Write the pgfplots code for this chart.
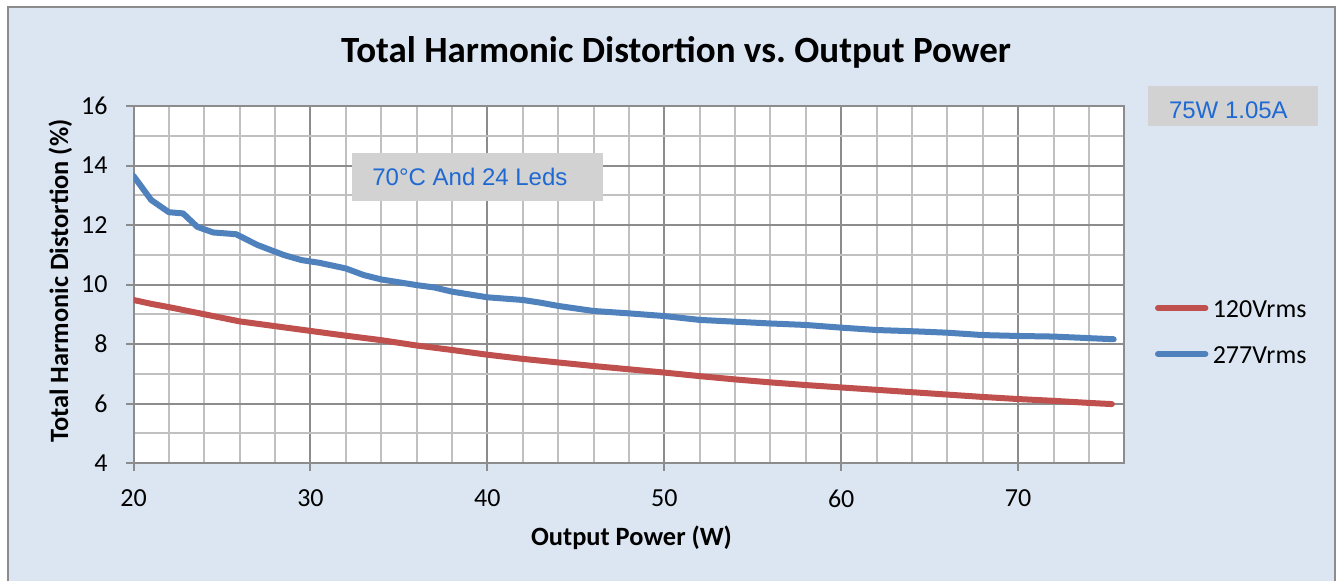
\documentclass[border=0pt]{standalone}
\usepackage{pgfplots}
\pgfplotsset{compat=1.18}
\usepackage{fontspec}
\setmainfont{Carlito}
\newfontfamily\arialfont{Liberation Sans}
\definecolor{chartbg}{RGB}{220,230,242}
\definecolor{framegray}{RGB}{140,140,140}
\definecolor{majgrid}{RGB}{140,140,140}
\definecolor{mingrid}{RGB}{192,192,192}
\definecolor{boxgray}{RGB}{210,210,210}
\definecolor{notecol}{RGB}{30,105,210}
\definecolor{redline}{RGB}{192,80,77}
\definecolor{blueline}{RGB}{79,129,189}

\begin{document}
\begin{tikzpicture}
\useasboundingbox (0,0) rectangle (669pt,290pt);
% chart area
\fill[chartbg] (4pt,-10pt) rectangle (667.5pt,286.5pt);
\draw[framegray, line width=1pt] (4pt,-10pt) -- (4pt,286.5pt) -- (667.5pt,286.5pt) -- (667.5pt,-10pt);

\begin{axis}[
  at={(66.75pt,58.5pt)}, anchor=south west,
  scale only axis, width=495.4pt, height=178.5pt,
  xmin=20, xmax=76, ymin=4, ymax=16,
  xtick={20,30,...,70}, ytick={4,6,...,16},
  minor xtick={22,24,...,76}, minor ytick={5,7,...,15},
  grid=both,
  major grid style={color=majgrid, line width=1pt},
  minor grid style={color=mingrid, line width=1pt},
  axis background/.style={fill=white},
  axis line style={color=majgrid, line width=1pt},
  tick align=outside, major tick length=3.75pt, minor tick length=0pt,
  tick style={color=majgrid, line width=1pt},
  xtick pos=bottom, ytick pos=left,
  ticklabel style={font=\fontsize{13}{15}\selectfont, inner sep=0pt},
  /pgf/number format/assume math mode=true,
  xticklabel style={anchor=north, yshift=-9.5pt},
  yticklabel style={anchor=east, xshift=-9pt},
  legend style={at={(1.0306,0.3697)}, anchor=west, draw=none, fill=none,
    inner sep=0pt, font=\fontsize{13}{15}\selectfont, row sep=14pt, column sep=2.2pt,
    nodes={inner sep=0pt, text height=9pt, text depth=0pt}},
  legend cell align=left,
  legend image code/.code={\draw[#1, line cap=round] (1.5pt,0pt) -- (25.2pt,0pt);},
]
\addplot[redline, line width=3pt, line join=round, line cap=round] coordinates {
(20,9.48) (21,9.35) (22,9.24) (23,9.12) (24,9.00) (25,8.88) (26,8.76) (28,8.60)
(30,8.44) (32,8.28) (34,8.13) (36,7.95) (38,7.80) (40,7.64) (42,7.50) (44,7.38)
(46,7.26) (48,7.15) (50,7.04) (52,6.92) (54,6.81) (56,6.71) (58,6.62) (60,6.54)
(62,6.46) (64,6.38) (66,6.30) (68,6.22) (70,6.15) (72,6.09) (74,6.02) (75.3,5.98)
};
\addlegendentry{120Vrms}
\addplot[blueline, line width=3pt, line join=round, line cap=round] coordinates {
(20,13.65) (21,12.84) (22,12.43) (22.8,12.39) (23.6,11.94) (24.5,11.75) (25.8,11.69)
(27,11.33) (28.5,10.99) (29.5,10.82) (30.5,10.73) (32,10.54) (33,10.32) (34,10.17)
(36,9.98) (37,9.90) (38,9.76) (40,9.57) (42,9.48) (43,9.39) (44,9.28) (46,9.11)
(48,9.03) (50,8.94) (52,8.81) (54,8.75) (56,8.69) (58,8.64) (60,8.55) (62,8.47)
(64,8.43) (66,8.38) (68,8.30) (70,8.27) (72,8.25) (75.4,8.16)
};
\addlegendentry{277Vrms}
\end{axis}

% title and axis labels
\node[anchor=base, font=\fontsize{18.5}{21}\selectfont\bfseries] at (338pt,258.65pt)
  {Total Harmonic Distortion vs.\ Output Power};
\node[anchor=base, font=\fontsize{13.2}{15}\selectfont\bfseries] at (315.75pt,17.5pt)
  {Output Power (W)};
\node[anchor=base, rotate=90, font=\fontsize{13.2}{15}\selectfont\bfseries] at (34pt,149.5pt)
  {Total Harmonic Distortion (\%)};

% note boxes
\fill[boxgray] (176pt,189.65pt) rectangle (301.35pt,213.5pt);
\node[anchor=west, inner sep=0pt, text=notecol, font=\arialfont\fontsize{12}{14}\selectfont]
  at (186pt,201.75pt) {70°C And 24 Leds};
\fill[boxgray] (574pt,227pt) rectangle (659pt,247pt);
\node[anchor=west, inner sep=0pt, text=notecol, font=\arialfont\fontsize{12}{14}\selectfont]
  at (584.3pt,234.75pt) {75W 1.05A};
\end{tikzpicture}
\end{document}
